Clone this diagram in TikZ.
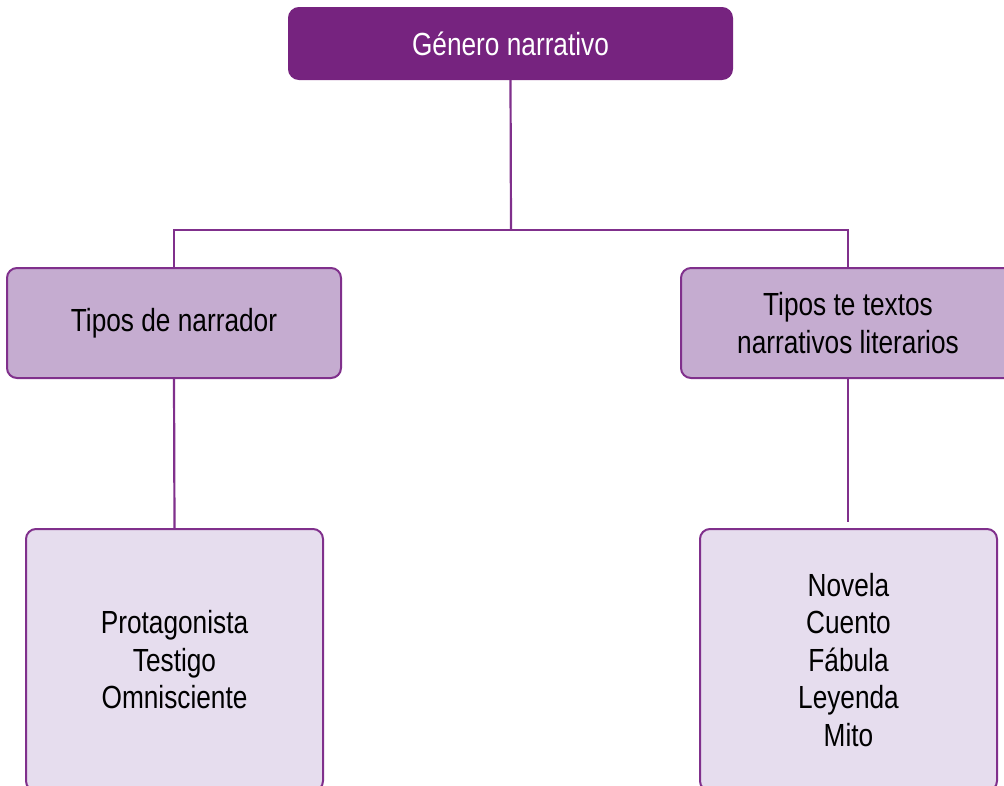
\documentclass[tikz,border=0pt]{standalone}
\usepackage{fontspec}
\setmainfont{Liberation Sans}[FakeStretch=0.82]
\definecolor{topfill}{RGB}{118,35,127}
\definecolor{midfill}{RGB}{197,172,208}
\definecolor{lowfill}{RGB}{230,221,238}
\definecolor{edge}{RGB}{128,48,140}
\tikzset{
  box/.style={draw=edge, line width=2pt, rounded corners=10pt, align=center, inner sep=0pt,
    font=\fontsize{32}{37.5}\selectfont, text=black},
  conn/.style={draw=edge, line width=2.2pt}
}
\begin{document}
\begin{tikzpicture}[x=1pt,y=-1pt]
\useasboundingbox (0,0) rectangle (1004,785);
\clip (0,0) rectangle (1004,785);
\node[box, fill=topfill, draw=topfill, text=white, minimum width=443pt, minimum height=71pt] (top) at (510.5,43.5) {Género narrativo};
\node[box, fill=midfill, minimum width=334pt, minimum height=110pt] (tn) at (174,323) {Tipos de narrador};
\node[box, fill=midfill, minimum width=334pt, minimum height=110pt] (tt) at (848,323) {Tipos te textos\\narrativos literarios};
\node[box, fill=lowfill, minimum width=297pt, minimum height=262pt] (ln) at (174.5,660) {Protagonista\\Testigo\\Omnisciente};
\node[box, fill=lowfill, minimum width=297pt, minimum height=262pt] (lt) at (848.5,660) {Novela\\Cuento\\Fábula\\Leyenda\\Mito};
\coordinate (j) at (511,230);
\coordinate (e) at (848,522);
\draw[conn] (top.south) -- (j);
\draw[conn] (tn.north) |- (j) -| (tt.north);
\draw[conn] (tn.south) -- (ln.north);
\draw[conn] (tt.south) -- (e);
\end{tikzpicture}
\end{document}
